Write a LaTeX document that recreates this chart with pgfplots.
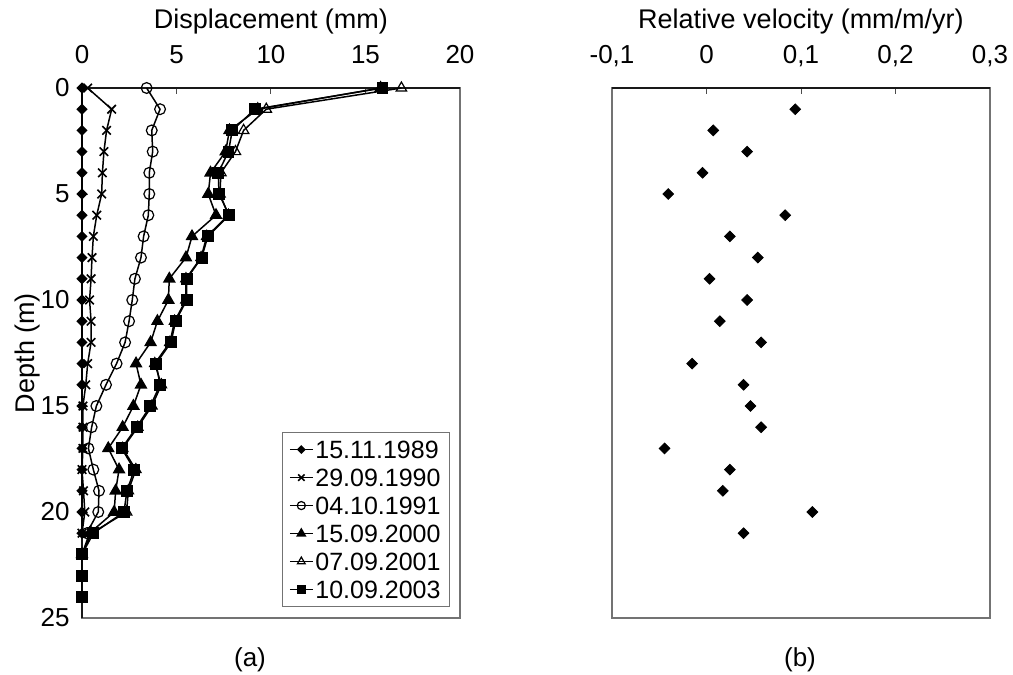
\documentclass[border=0pt]{standalone}
\usepackage{fontspec}
\setmainfont{Liberation Sans}
\usepackage{pgfplots}
\pgfplotsset{compat=1.18}
\begin{document}
\begin{tikzpicture}[font=\fontsize{13}{15}\selectfont]
\useasboundingbox (0,0) rectangle (506.5pt,337.5pt);
\pgfplotsset{
  common/.style={
    scale only axis, width=189pt, height=265pt,
    anchor=south west,
    y dir=reverse, ymin=0, ymax=25,
    axis line style={black!55, line width=0.6pt},
    tick align=inside, major tick length=3pt,
    tick style={black!70, line width=0.5pt},
    xtick pos=right, xticklabel pos=right,
    ytick pos=left,
    /pgf/number format/assume math mode=true,
    tick label style={font=\fontsize{13}{15}\selectfont},
    xticklabel style={anchor=base, yshift=12.5pt, inner sep=0pt},
    yticklabel style={anchor=east, inner sep=0pt, xshift=-6pt},
    xlabel style={at={(axis description cs:0.5,1)}, anchor=base, yshift=30pt, inner sep=0pt, font=\fontsize{13.5}{15}\selectfont},
    clip=false,
  },
  ser/.style={black, line width=0.75pt, mark options={solid}},
}
\begin{axis}[common, at={(41pt,28.5pt)},
  xmin=0, xmax=20, xtick={0,5,10,15,20},
  xticklabels={0,5,10,15,20},
  ytick={0,5,10,15,20,25}, yticklabels={0,5,10,15,20,25},
  xlabel={Displacement (mm)},
  ylabel={Depth (m)},
  ylabel style={at={(axis description cs:0,0.5)}, anchor=center, yshift=27pt, xshift=0pt, font=\fontsize{13.5}{15}\selectfont},
  legend style={at={(0.974,0.351)}, anchor=north east, draw=black!55, line width=0.6pt, fill=white,
    font=\fontsize{12.5}{14}\selectfont, inner xsep=3.5pt, inner ysep=3pt, row sep=3pt,
    nodes={inner sep=1pt, text height=9pt, text depth=0pt}},
  legend cell align=left,
  legend image code/.code={\draw[mark repeat=2, mark phase=2, /tikz/every mark/.append style={scale=0.75}] plot coordinates {(0cm,0cm) (0.2cm,0cm) (0.4cm,0cm)};},
]
\draw[black!90, line width=0.6pt] (axis description cs:0,1) -- (axis description cs:1,1);
\draw[black!90, line width=0.6pt] (axis description cs:0,0) -- (axis description cs:0,1);
% 15.11.1989
\addplot[ser, mark=square*, mark size=1.6pt, mark options={rotate=45}] coordinates {
(0,0) (0,1) (0,2) (0,3) (0,4) (0,5) (0,6) (0,7) (0,8) (0,9) (0,10) (0,11)
(0,12) (0,13) (0,14) (0,15) (0,16) (0,17) (0,18) (0,19) (0,20) (0,21)};
\addlegendentry{15.11.1989}
% 29.09.1990
\addplot[ser, mark=x, mark size=3pt, mark options={line width=0.8pt}] coordinates {
(0.3,0) (1.57,1) (1.3,2) (1.16,3) (1.08,4) (1.04,5) (0.78,6) (0.6,7) (0.53,8)
(0.48,9) (0.4,10) (0.48,11) (0.48,12) (0.3,13) (0.2,14) (0.05,15) (0.05,16)
(0.05,17) (0,18) (0.08,19) (0.15,20) (0,21)};
\addlegendentry{29.09.1990}
% 04.10.1991
\addplot[ser, mark=o, mark size=2.7pt, mark options={fill=white, line width=0.6pt}] coordinates {
(3.42,0) (4.13,1) (3.69,2) (3.74,3) (3.56,4) (3.56,5) (3.51,6) (3.26,7) (3.12,8)
(2.8,9) (2.66,10) (2.49,11) (2.28,12) (1.83,13) (1.27,14) (0.76,15) (0.51,16)
(0.34,17) (0.6,18) (0.9,19) (0.86,20) (0.25,21)};
\addlegendentry{04.10.1991}
% 15.09.2000
\addplot[ser, mark=triangle*, mark size=3pt] coordinates {
(15.8,0) (9.3,1) (7.8,2) (7.6,3) (6.8,4) (6.68,5) (7.09,6) (5.82,7) (5.5,8)
(4.62,9) (4.57,10) (3.99,11) (3.63,12) (2.86,13) (3.12,14) (2.72,15) (2.15,16)
(1.39,17) (1.96,18) (1.78,19) (1.7,20) (0.4,21) (0,22)};
\addlegendentry{15.09.2000}
% 07.09.2001
\addplot[ser, mark=triangle, mark size=3pt, mark options={fill=white, line width=0.6pt}] coordinates {
(16.9,0) (9.75,1) (8.55,2) (8.12,3) (7.35,4) (7.3,5) (7.75,6) (6.6,7) (6.3,8)
(5.5,9) (5.5,10) (4.9,11) (4.65,12) (3.85,13) (4.2,14) (3.7,15) (2.95,16)
(2.15,17) (2.85,18) (2.45,19) (2.36,20) (0.5,21) (0,22)};
\addlegendentry{07.09.2001}
% 10.09.2003
\addplot[ser, mark=square*, mark size=2.6pt] coordinates {
(15.9,0) (9.15,1) (7.95,2) (7.75,3) (7.21,4) (7.25,5) (7.79,6) (6.66,7) (6.33,8)
(5.54,9) (5.54,10) (4.95,11) (4.71,12) (3.92,13) (4.13,14) (3.62,15) (2.89,16)
(2.1,17) (2.77,18) (2.38,19) (2.22,20) (0.6,21) (0,22) (0,23) (0,24)};
\addlegendentry{10.09.2003}
\end{axis}

\begin{axis}[common, at={(306pt,28.5pt)},
  xmin=-0.1, xmax=0.3, xtick={-0.1,0,0.1,0.2,0.3},
  xticklabels={{-0,1},{0},{0,1},{0,2},{0,3}},
  ytick=\empty,
  xlabel={Relative velocity (mm/m/yr)},
]
\draw[black!90, line width=0.6pt] (axis description cs:0,1) -- (axis description cs:1,1);
\addplot[only marks, mark=square*, mark size=1.9pt, mark options={rotate=45, black}] coordinates {
(0.0939,1) (0.0071,2) (0.043,3) (-0.0042,4) (-0.0405,5) (0.0833,6) (0.0247,7)
(0.0543,8) (0.0032,9) (0.043,10) (0.0141,11) (0.0578,12) (-0.0152,13) (0.0392,14)
(0.0466,15) (0.0578,16) (-0.0444,17) (0.0247,18) (0.0173,19) (0.112,20) (0.0392,21)};
\end{axis}

\node at (125pt,7.5pt) {(a)};
\node at (400pt,7.5pt) {(b)};
\end{tikzpicture}
\end{document}
